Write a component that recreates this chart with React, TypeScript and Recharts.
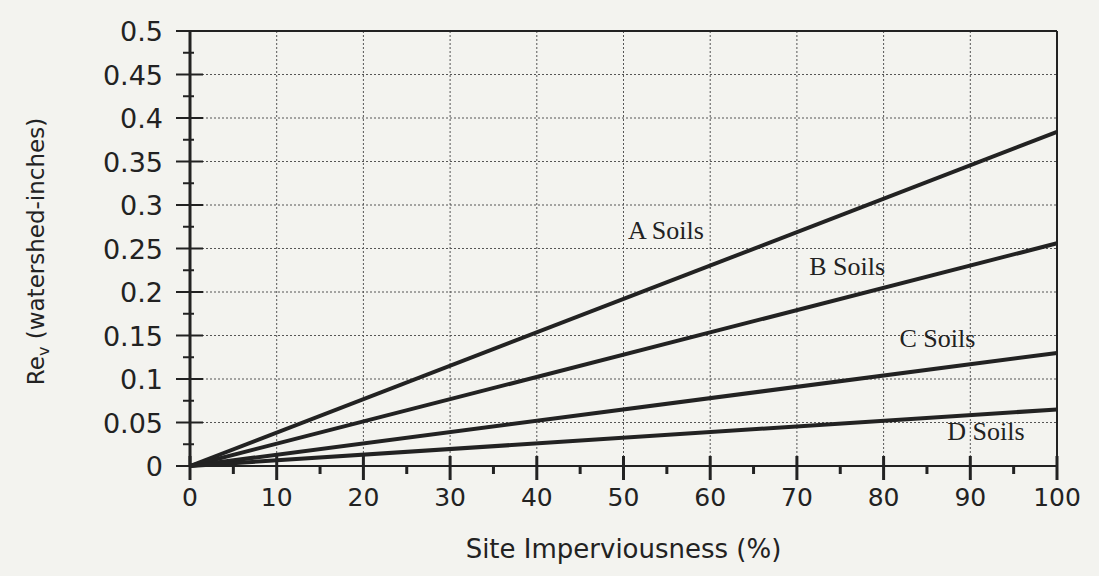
import {
  CartesianGrid,
  Line,
  LineChart,
  ReferenceDot,
  ReferenceLine,
  XAxis,
  YAxis,
} from "recharts";

const imperviousness = [0, 100];
const aSoils = [0, 0.384];
const bSoils = [0, 0.256];
const cSoils = [0, 0.13];
const dSoils = [0, 0.065];

const xTicks = [0, 5, 10, 15, 20, 25, 30, 35, 40, 45, 50, 55, 60, 65, 70, 75, 80, 85, 90, 95, 100];
const xLabels = ["0", "10", "20", "30", "40", "50", "60", "70", "80", "90", "100"];
const yTicks = [
  0, 0.025, 0.05, 0.075, 0.1, 0.125, 0.15, 0.175, 0.2, 0.225, 0.25,
  0.275, 0.3, 0.325, 0.35, 0.375, 0.4, 0.425, 0.45, 0.475, 0.5,
];
const yLabels = ["0", "0.05", "0.1", "0.15", "0.2", "0.25", "0.3", "0.35", "0.4", "0.45", "0.5"];
const gridX = [10, 20, 30, 40, 50, 60, 70, 80, 90];
const gridY = [0.05, 0.1, 0.15, 0.2, 0.25, 0.3, 0.35, 0.4, 0.45];

const soilLabels = [
  { text: "A Soils", x: 54.9, y: 0.271 },
  { text: "B Soils", x: 75.8, y: 0.23 },
  { text: "C Soils", x: 86.2, y: 0.147 },
  { text: "D Soils", x: 91.8, y: 0.041 },
];

const data = imperviousness.map((x, i) => ({
  x,
  a: aSoils[i],
  b: bSoils[i],
  c: cSoils[i],
  d: dSoils[i],
}));

const INK = "#222";
const SANS = "'DejaVu Sans', Arial, sans-serif";
const SERIF = "'Liberation Serif', 'Times New Roman', serif";

function XTick({ x, y, payload }: any) {
  const v = payload.value;
  const major = v % 10 === 0;
  return (
    <g>
      {major ? (
        <line x1={x} x2={x} y1={y - 10} y2={y + 14} stroke={INK} strokeWidth={3} />
      ) : (
        <line x1={x} x2={x} y1={y} y2={y + 8} stroke={INK} strokeWidth={3} />
      )}
      {major && xLabels.includes(String(v)) && (
        <text x={x} y={y + 40} textAnchor="middle" fontSize={25} fontFamily={SANS} fill={INK}>
          {String(v)}
        </text>
      )}
    </g>
  );
}

function YTick({ x, y, payload }: any) {
  const v = Math.round(payload.value * 1000) / 1000;
  const label = yLabels.find((l) => Number(l) === v);
  return (
    <g>
      {label !== undefined ? (
        <line x1={x - 14} x2={x + 13} y1={y} y2={y} stroke={INK} strokeWidth={2} />
      ) : (
        <line x1={x - 7} x2={x + 4} y1={y} y2={y} stroke={INK} strokeWidth={2} />
      )}
      {label !== undefined && (
        <text x={x - 27} y={y + 10} textAnchor="end" fontSize={27} fontFamily={SANS} fill={INK}>
          {label}
        </text>
      )}
    </g>
  );
}

function YTitle({ viewBox }: any) {
  const cx = viewBox.x + 4;
  const cy = viewBox.y + viewBox.height / 2 + 3;
  return (
    <text
      x={cx}
      y={cy}
      transform={`rotate(-90 ${cx} ${cy})`}
      textAnchor="middle"
      fontSize={23}
      fontFamily={SANS}
      fill={INK}
    >
      <tspan>Re</tspan>
      <tspan fontSize={16} dy={5}>v</tspan>
      <tspan dy={-5}> (watershed-inches)</tspan>
    </text>
  );
}

function XTitle({ viewBox }: any) {
  return (
    <text
      x={viewBox.x + viewBox.width / 2}
      y={viewBox.y + 92}
      textAnchor="middle"
      fontSize={26}
      fontFamily={SANS}
      fill={INK}
    >
      Site Imperviousness (%)
    </text>
  );
}

export default function App() {
  return (
    <div
      style={{
        position: "absolute",
        left: 0,
        top: 0,
        width: 1099,
        height: 576,
        background: "#f3f3ef",
      }}
    >
      <LineChart
        width={1099}
        height={576}
        data={data}
        margin={{ top: 31, right: 42, bottom: 50, left: 40 }}
      >
        <CartesianGrid
          horizontal
          vertical
          horizontalValues={gridY}
          verticalValues={gridX}
          stroke="#555"
          strokeDasharray="2 2"
          strokeWidth={1}
        />
        <XAxis
          type="number"
          dataKey="x"
          domain={[0, 100]}
          ticks={xTicks}
          interval={0}
          height={60}
          tickSize={0}
          tickMargin={0}
          tickLine={false}
          axisLine={{ stroke: INK, strokeWidth: 2 }}
          tick={<XTick />}
          label={<XTitle />}
        />
        <YAxis
          type="number"
          domain={[0, 0.5]}
          ticks={yTicks}
          interval={0}
          width={150}
          tickSize={0}
          tickMargin={0}
          tickLine={false}
          axisLine={{ stroke: INK, strokeWidth: 3 }}
          tick={<YTick />}
          label={<YTitle />}
        />
        <ReferenceLine y={0.5} stroke={INK} strokeWidth={2} />
        <ReferenceLine x={100} stroke={INK} strokeWidth={2} />
        <Line type="linear" dataKey="a" stroke={INK} strokeWidth={4} dot={false} isAnimationActive={false} />
        <Line type="linear" dataKey="b" stroke={INK} strokeWidth={4} dot={false} isAnimationActive={false} />
        <Line type="linear" dataKey="c" stroke={INK} strokeWidth={4} dot={false} isAnimationActive={false} />
        <Line type="linear" dataKey="d" stroke={INK} strokeWidth={4} dot={false} isAnimationActive={false} />
        {soilLabels.map((s) => (
          <ReferenceDot
            key={s.text}
            x={s.x}
            y={s.y}
            r={0}
            fill="none"
            stroke="none"
            label={{
              value: s.text,
              position: "center",
              fontSize: 26,
              fontFamily: SERIF,
              fill: INK,
            }}
          />
        ))}
      </LineChart>
    </div>
  );
}
